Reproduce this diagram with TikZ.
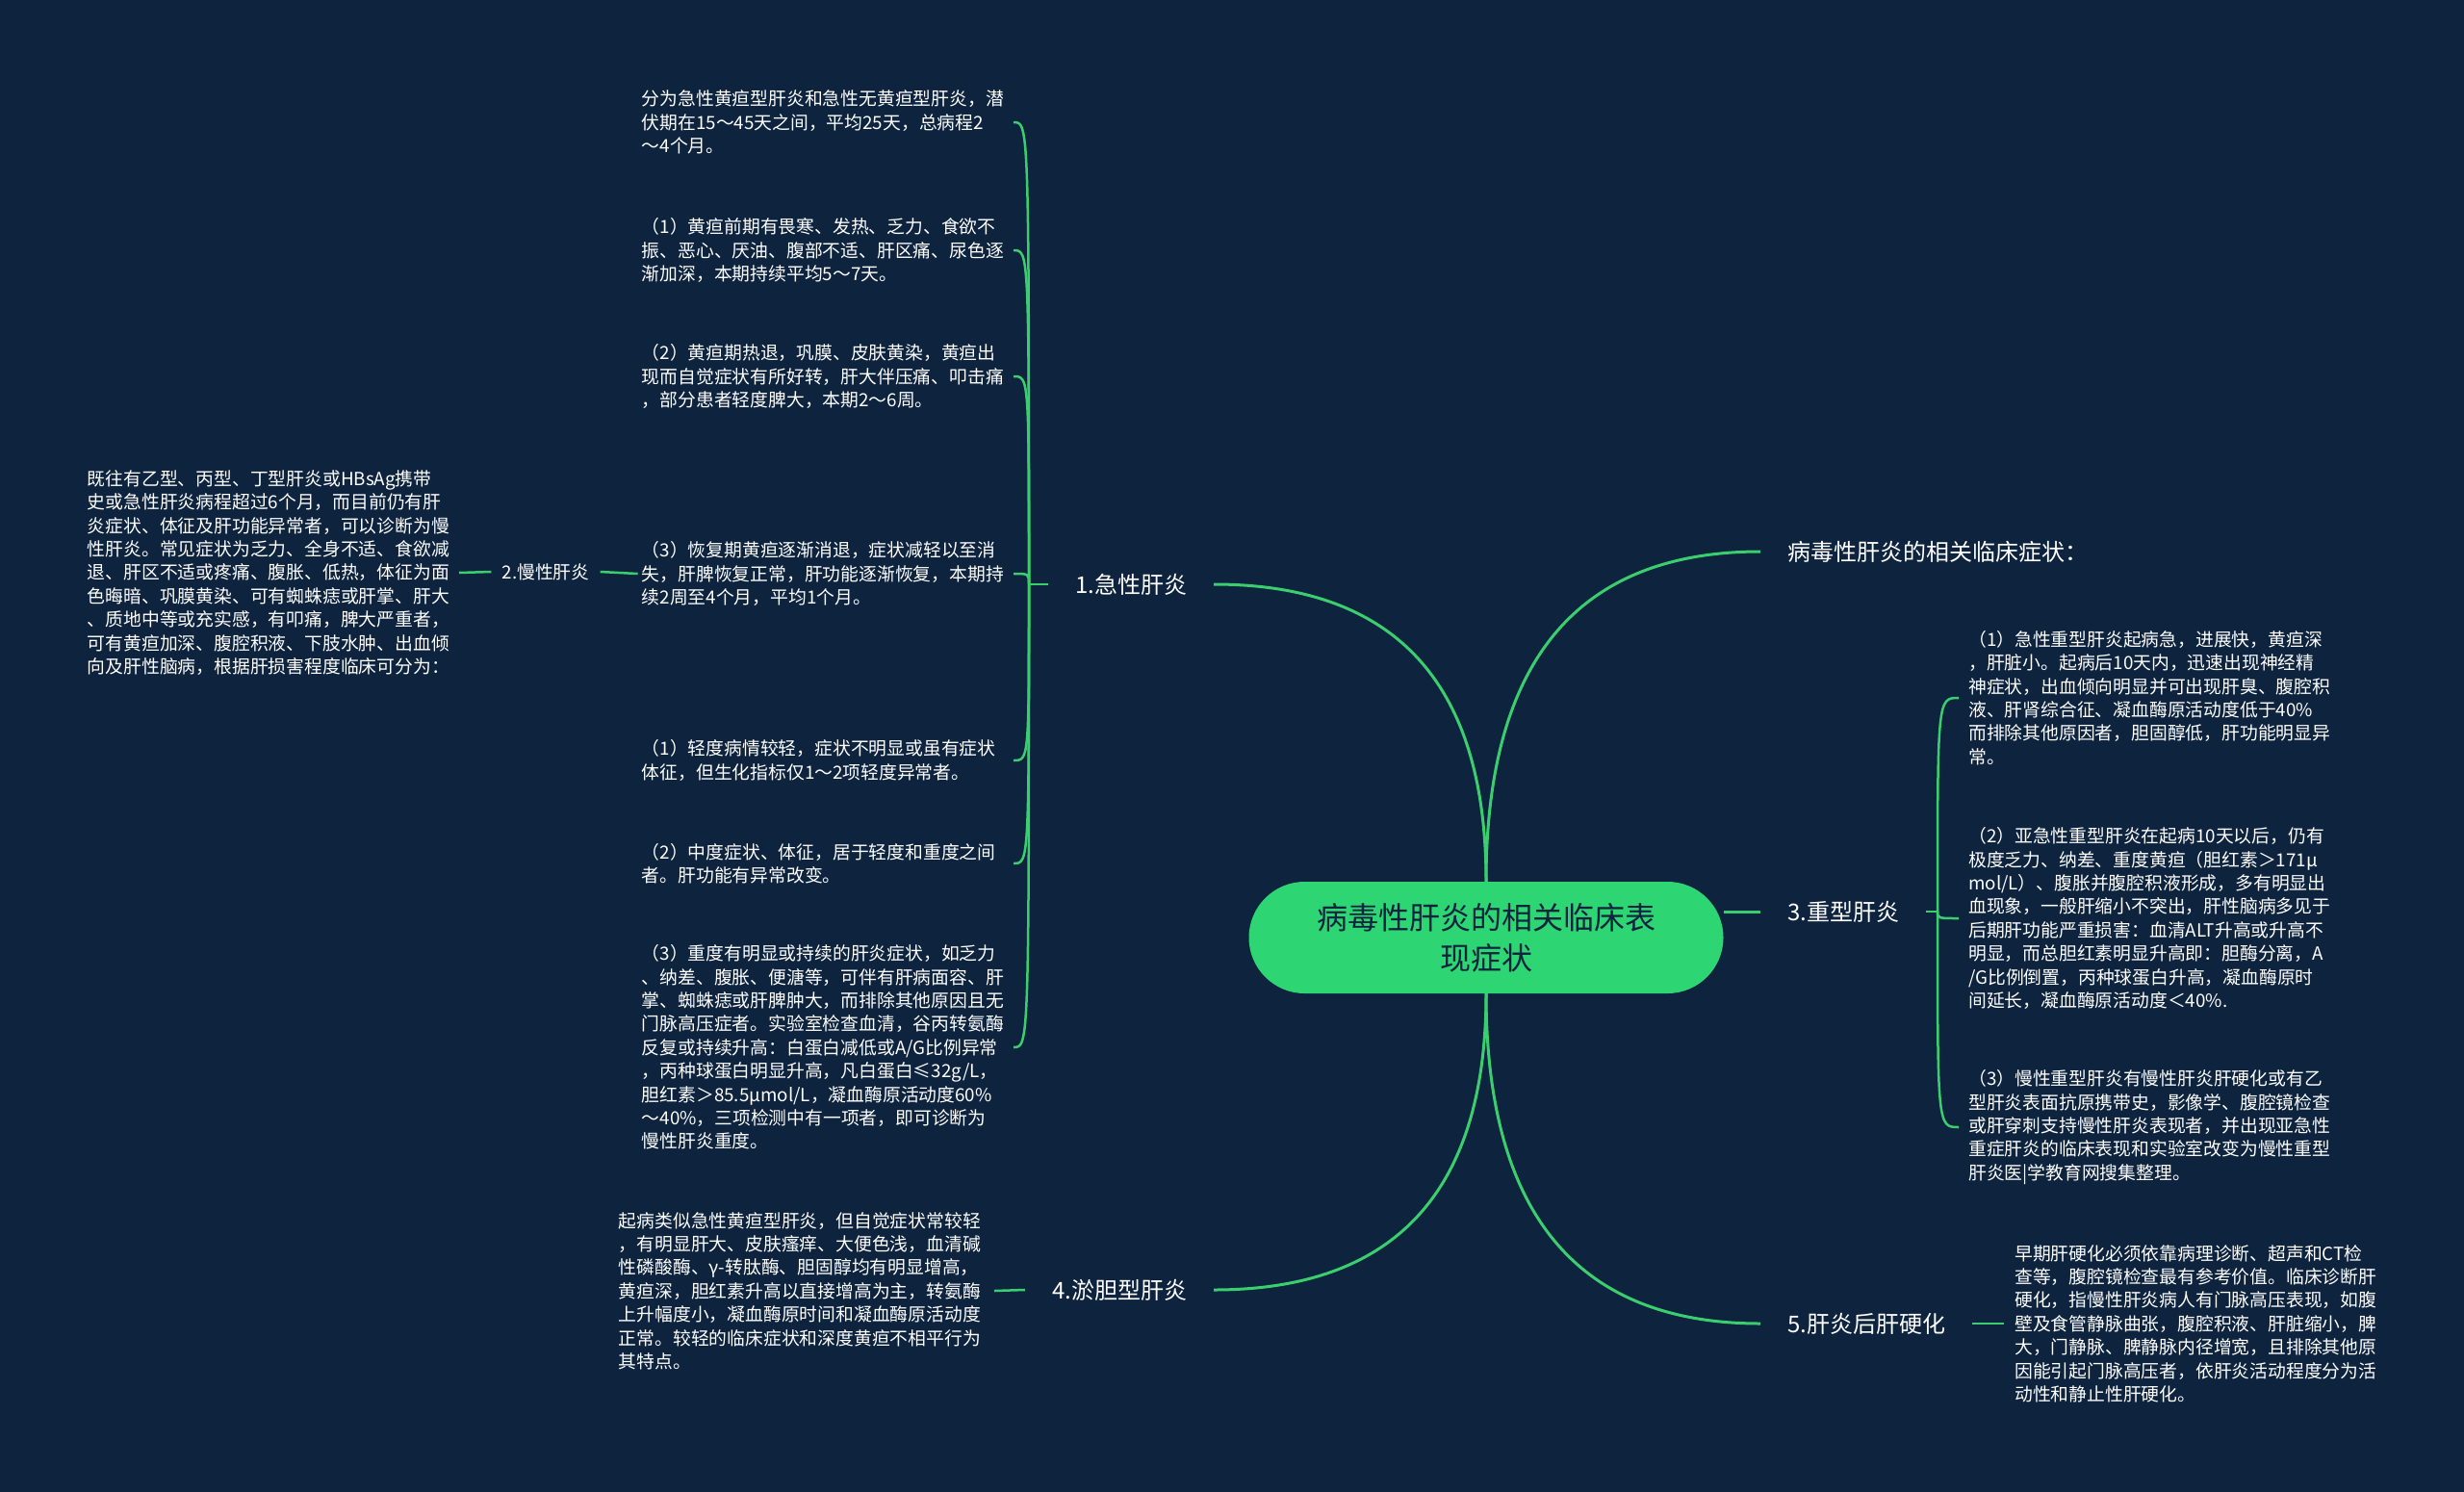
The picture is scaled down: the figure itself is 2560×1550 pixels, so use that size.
\documentclass[tikz,border=0pt]{standalone}
\usepackage{fontspec}
\setmainfont{Noto Sans CJK SC}
\definecolor{bgc}{RGB}{13,35,62}
\definecolor{lnc}{RGB}{58,206,110}
\definecolor{ctrc}{RGB}{46,213,115}
\pgfdeclarelayer{edgelayer}
\pgfsetlayers{edgelayer,main}
\begin{document}
\begin{tikzpicture}[x=1pt,y=-1pt,
  detail/.style={text=white, align=left, inner ysep=2pt, inner xsep=4pt, text width=382pt, font=\fontsize{18.8}{24.4}\selectfont},
  lab/.style={text=white, inner xsep=28pt, inner ysep=4pt, font=\fontsize{24}{28}\selectfont},
  labsmall/.style={text=white, inner xsep=11pt, inner ysep=4pt, font=\fontsize{18.8}{24.4}\selectfont},
  ctrbox/.style={fill=ctrc, text=bgc, rounded corners=58pt, minimum width=493pt, minimum height=116pt, align=center, font=\fontsize{32}{42}\selectfont},
  conn/.style={draw=lnc, line width=3pt},
  sub/.style={draw=lnc, line width=2.5pt},
]
\begin{pgfonlayer}{edgelayer}
\fill[bgc] (0,0) rectangle (2560,1550);
\end{pgfonlayer}
\useasboundingbox (0,0) rectangle (2560,1550);

% central node
\node[ctrbox] (ctr) at (1544,974) {病毒性肝炎的相关临床表\\现症状};

% first level labels
\node[lab] (l1) at (1175,607) {1.急性肝炎};
\node[lab] (l4) at (1163,1340) {4.淤胆型肝炎};
\node[lab, anchor=west] (l0) at (1829,573) {病毒性肝炎的相关临床症状：};
\node[lab, anchor=west] (l3) at (1829,947) {3.重型肝炎};
\node[lab, anchor=west] (l5) at (1829,1375) {5.肝炎后肝硬化};
\node[labsmall] (l2) at (567,594) {2.慢性肝炎};

% children of 1
\node[detail, anchor=east] (a) at (1053,127) {分为急性黄疸型肝炎和急性无黄疸型肝炎，潜\\伏期在15～45天之间，平均25天，总病程2\\～4个月。};
\node[detail, anchor=east] (b) at (1053,260) {（1）黄疸前期有畏寒、发热、乏力、食欲不\\振、恶心、厌油、腹部不适、肝区痛、尿色逐\\渐加深，本期持续平均5～7天。};
\node[detail, anchor=east] (c) at (1053,391) {（2）黄疸期热退，巩膜、皮肤黄染，黄疸出\\现而自觉症状有所好转，肝大伴压痛、叩击痛\\，部分患者轻度脾大，本期2～6周。};
\node[detail, anchor=east] (d) at (1053,596) {（3）恢复期黄疸逐渐消退，症状减轻以至消\\失，肝脾恢复正常，肝功能逐渐恢复，本期持\\续2周至4个月，平均1个月。};
\node[detail, anchor=east] (e) at (1053,790) {（1）轻度病情较轻，症状不明显或虽有症状\\体征，但生化指标仅1～2项轻度异常者。};
\node[detail, anchor=east] (f) at (1053,897) {（2）中度症状、体征，居于轻度和重度之间\\者。肝功能有异常改变。};
\node[detail, anchor=east] (g) at (1053,1088) {（3）重度有明显或持续的肝炎症状，如乏力\\、纳差、腹胀、便溏等，可伴有肝病面容、肝\\掌、蜘蛛痣或肝脾肿大，而排除其他原因且无\\门脉高压症者。实验室检查血清，谷丙转氨酶\\反复或持续升高：白蛋白减低或A/G比例异常\\，丙种球蛋白明显升高，凡白蛋白≤32g/L，\\胆红素＞85.5μmol/L，凝血酶原活动度60\%\\～40\%，三项检测中有一项者，即可诊断为\\慢性肝炎重度。};

% chronic
\node[detail, anchor=east] (lc) at (477,595) {既往有乙型、丙型、丁型肝炎或HBsAg携带\\史或急性肝炎病程超过6个月，而目前仍有肝\\炎症状、体征及肝功能异常者，可以诊断为慢\\性肝炎。常见症状为乏力、全身不适、食欲减\\退、肝区不适或疼痛、腹胀、低热，体征为面\\色晦暗、巩膜黄染、可有蜘蛛痣或肝掌、肝大\\、质地中等或充实感，有叩痛，脾大严重者，\\可有黄疸加深、腹腔积液、下肢水肿、出血倾\\向及肝性脑病，根据肝损害程度临床可分为：};

% cholestatic
\node[detail, anchor=east, text width=386pt] (m) at (1033,1341) {起病类似急性黄疸型肝炎，但自觉症状常较轻\\，有明显肝大、皮肤瘙痒、大便色浅，血清碱\\性磷酸酶、γ-转肽酶、胆固醇均有明显增高，\\黄疸深，胆红素升高以直接增高为主，转氨酶\\上升幅度小，凝血酶原时间和凝血酶原活动度\\正常。较轻的临床症状和深度黄疸不相平行为\\其特点。};

% children of 3
\node[detail, anchor=west, inner xsep=10pt, text width=380pt] (h) at (2035,725) {（1）急性重型肝炎起病急，进展快，黄疸深\\，肝脏小。起病后10天内，迅速出现神经精\\神症状，出血倾向明显并可出现肝臭、腹腔积\\液、肝肾综合征、凝血酶原活动度低于40\%\\而排除其他原因者，胆固醇低，肝功能明显异\\常。};
\node[detail, anchor=west, inner xsep=10pt, text width=380pt] (i) at (2035,954) {（2）亚急性重型肝炎在起病10天以后，仍有\\极度乏力、纳差、重度黄疸（胆红素＞171μ\\mol/L）、腹胀并腹腔积液形成，多有明显出\\血现象，一般肝缩小不突出，肝性脑病多见于\\后期肝功能严重损害：血清ALT升高或升高不\\明显，而总胆红素明显升高即：胆酶分离，A\\/G比例倒置，丙种球蛋白升高，凝血酶原时\\间延长，凝血酶原活动度＜40\%.};
\node[detail, anchor=west, inner xsep=10pt, text width=380pt] (j) at (2035,1171) {（3）慢性重型肝炎有慢性肝炎肝硬化或有乙\\型肝炎表面抗原携带史，影像学、腹腔镜检查\\或肝穿刺支持慢性肝炎表现者，并出现亚急性\\重症肝炎的临床表现和实验室改变为慢性重型\\肝炎医|学教育网搜集整理。};

% child of 5
\node[detail, anchor=west, inner xsep=11pt, text width=385pt] (k) at (2082,1375) {早期肝硬化必须依靠病理诊断、超声和CT检\\查等，腹腔镜检查最有参考价值。临床诊断肝\\硬化，指慢性肝炎病人有门脉高压表现，如腹\\壁及食管静脉曲张，腹腔积液、肝脏缩小，脾\\大，门静脉、脾静脉内径增宽，且排除其他原\\因能引起门脉高压者，依肝炎活动程度分为活\\动性和静止性肝硬化。};

\coordinate (t1) at (1069,607);
\coordinate (t3) at (2013,947);

\begin{pgfonlayer}{edgelayer}
\draw[conn] (ctr.north) .. controls (1544,710) and (1450,607) .. (l1.east);
\draw[conn] (ctr.north) .. controls (1544,687) and (1639,573) .. (l0.west);
\draw[conn] (ctr.south) .. controls (1544,1237) and (1450,1340) .. (l4.east);
\draw[conn] (ctr.south) .. controls (1544,1261) and (1639,1375) .. (l5.west);
\draw[conn] (l3.west) -- (l3.west -| ctr.east);

\draw[sub] (l1.west) -- (t1);
\foreach \n in {a,b,c,d,e,f,g}{
  \draw[sub] (t1) .. controls (t1 |- \n.east) .. (\n.east);
}
\draw[sub] (d.west) -- (l2.east);
\draw[sub] (l2.west) -- (lc.east);
\draw[sub] (l4.west) -- (m.east);

\draw[sub] (l3.east) -- (t3);
\foreach \n in {h,i,j}{
  \draw[sub] (t3) .. controls (t3 |- \n.west) .. (\n.west);
}
\draw[sub] (l5.east) -- (k.west);
\end{pgfonlayer}
\end{tikzpicture}
\end{document}
